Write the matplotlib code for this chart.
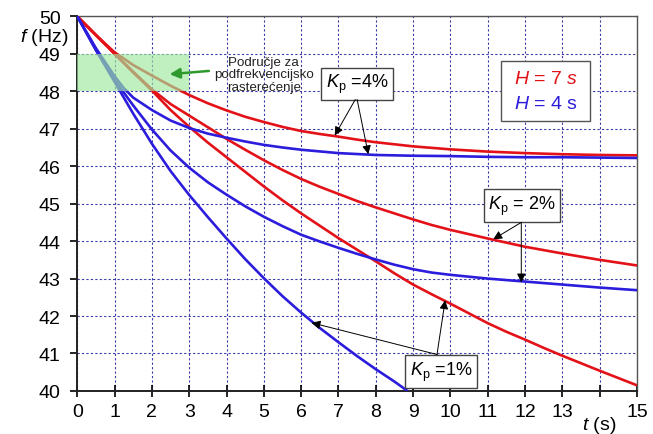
import numpy as np
import matplotlib
matplotlib.use('Agg')
import matplotlib.pyplot as plt
from matplotlib.patches import Rectangle

plt.rcParams['font.family'] = ['Liberation Sans', 'DejaVu Sans']
plt.rcParams['mathtext.fontset'] = 'custom'
plt.rcParams['mathtext.rm'] = 'Liberation Sans'
plt.rcParams['mathtext.it'] = 'Liberation Sans:italic'

RED = '#e31218'
BLUE = '#2c1ddc'

# frequency response f(t)
t_h7_kp4 = [0, 0.5, 1, 1.5, 2, 2.5, 3, 3.5, 4, 4.5, 5, 5.5, 6, 6.5, 7, 7.5, 8, 9, 10, 11, 12, 13, 14, 15]
f_h7_kp4 = [50, 49.5, 49.04, 48.7, 48.42, 48.15, 47.9, 47.68, 47.49, 47.32, 47.18, 47.05,
            46.94, 46.86, 46.79, 46.71, 46.64, 46.53, 46.45, 46.39, 46.35, 46.32, 46.3, 46.29]

t_h7_kp2 = [0, 0.5, 1, 1.5, 2, 2.5, 3, 3.5, 4, 4.5, 5, 5.5, 6, 6.5, 7, 7.5, 8, 8.5, 9, 9.5,
            10, 11, 12, 13, 14, 15]
f_h7_kp2 = [50, 49.5, 49.0, 48.52, 48.05, 47.66, 47.35, 47.04, 46.73, 46.44, 46.16, 45.9,
            45.66, 45.45, 45.26, 45.07, 44.9, 44.74, 44.58, 44.43, 44.3, 44.07, 43.85, 43.67,
            43.5, 43.35]

t_h7_kp1 = [0, 0.5, 1, 1.5, 2, 2.5, 3, 3.5, 4, 4.5, 5, 5.5, 6, 6.5, 7, 7.5, 8, 8.5, 9, 9.5,
            10, 10.5, 11, 11.5, 12, 12.5, 13, 14, 15]
f_h7_kp1 = [50, 49.5, 49.0, 48.5, 48.02, 47.5, 47.05, 46.63, 46.24, 45.85, 45.46, 45.09,
            44.74, 44.41, 44.08, 43.77, 43.46, 43.14, 42.84, 42.58, 42.33, 42.07, 41.81,
            41.58, 41.37, 41.15, 40.94, 40.54, 40.15]

t_h4_kp4 = [0, 0.5, 1, 1.25, 1.5, 2, 2.5, 3, 3.5, 4, 4.5, 5, 5.5, 6, 7, 8, 9, 10, 11, 12, 13, 14, 15]
f_h4_kp4 = [50, 49.15, 48.4, 48.08, 47.83, 47.5, 47.22, 47.02, 46.87, 46.76, 46.66, 46.57,
            46.5, 46.44, 46.35, 46.3, 46.28, 46.27, 46.25, 46.24, 46.24, 46.23, 46.22]

t_h4_kp2 = [0, 0.5, 1, 1.5, 2, 2.5, 3, 3.5, 4, 4.5, 5, 5.5, 6, 6.5, 7, 7.5, 8, 8.5, 9, 9.5,
            10, 11, 12, 13, 14, 15]
f_h4_kp2 = [50, 49.1, 48.3, 47.62, 46.98, 46.42, 45.96, 45.57, 45.24, 44.93, 44.65, 44.4,
            44.17, 43.99, 43.82, 43.66, 43.51, 43.37, 43.25, 43.16, 43.1, 43.0, 42.92, 42.84,
            42.76, 42.69]

t_h4_kp1 = [0, 0.5, 1, 1.5, 2, 2.5, 3, 3.5, 4, 4.5, 5, 5.5, 6, 6.5, 7, 7.5, 8, 8.5, 8.85]
f_h4_kp1 = [50, 49.1, 48.25, 47.4, 46.6, 45.87, 45.23, 44.64, 44.07, 43.52, 43.01, 42.53,
            42.09, 41.68, 41.3, 40.93, 40.58, 40.25, 40.0]

x_ticks = list(range(0, 16))
x_labels = [str(v) for v in x_ticks]
x_labels[14] = ''
y_ticks = list(range(40, 51))


fig = plt.figure(figsize=(6.53, 4.35), dpi=100)
ax = fig.add_axes([0.1184, 0.099, 0.857, 0.861])

for t, f, c in [(t_h7_kp4, f_h7_kp4, RED), (t_h7_kp2, f_h7_kp2, RED), (t_h7_kp1, f_h7_kp1, RED),
                (t_h4_kp4, f_h4_kp4, BLUE), (t_h4_kp2, f_h4_kp2, BLUE), (t_h4_kp1, f_h4_kp1, BLUE)]:
    ax.plot(t, f, color=c, lw=1.9, zorder=3, solid_capstyle='round', solid_joinstyle='round')

# under-frequency load shedding zone (drawn on top, semi transparent)
ax.add_patch(Rectangle((0, 48), 3, 1, facecolor='#9ee89e', alpha=0.65, edgecolor='none', zorder=4))
ax.annotate('', xy=(2.4, 48.45), xytext=(3.6, 48.55),
            arrowprops=dict(arrowstyle='-|>', color='#2e9a2e', lw=1.8, mutation_scale=15), zorder=5)
ax.text(5.0, 48.45, 'Područje za\npodfrekvencijsko\nrasterećenje', ha='center', va='center',
        fontsize=9.6, color='#222222', linespacing=1.05)

ax.set_xlim(0, 15)
ax.set_ylim(40, 50)
ax.set_xticks(x_ticks)
ax.set_xticklabels(x_labels, fontsize=14)
ax.set_yticks(y_ticks)
ax.set_yticklabels([str(v) for v in y_ticks], fontsize=14)
ax.tick_params(axis='y', direction='out', length=5, width=1.2, pad=7)
ax.tick_params(axis='x', direction='inout', length=8, width=1.2, pad=5)
ax.grid(True, color='#3a3aa8', linestyle=(0, (2.0, 2.0)), lw=0.8)
ax.set_axisbelow(True)

for s in ['left', 'bottom']:
    ax.spines[s].set_linewidth(1.4)
    ax.spines[s].set_color('#222222')
for s in ['top', 'right']:
    ax.spines[s].set_linewidth(1.0)
    ax.spines[s].set_color('#555555')

ax.text(-0.25, 49.45, '$f$ (Hz)', ha='right', va='center', fontsize=14, clip_on=False)
ax.text(14.0, 39.1, '$t$ (s)', ha='center', va='center', fontsize=14, clip_on=False)

# inertia legend
ax.add_patch(Rectangle((11.35, 47.2), 2.4, 1.6, facecolor='white', edgecolor='#555555', lw=1.0, zorder=5))
ax.text(12.55, 48.35, '$H$ = 7 $s$', color=RED, ha='center', va='center', fontsize=14, zorder=6)
ax.text(12.55, 47.67, '$H$ = 4 s', color=BLUE, ha='center', va='center', fontsize=14, zorder=6)

box = dict(boxstyle='square,pad=0.25', fc='white', ec='#444444', lw=1.0)
arr = dict(arrowstyle='-|>', color='black', lw=0.7, mutation_scale=13, shrinkA=0, shrinkB=0)

ax.text(7.5, 48.2, '$K_\\mathrm{p}$ =4%', ha='center', va='center', fontsize=13, bbox=box, zorder=6)
ax.annotate('', xy=(6.9, 46.82), xytext=(7.45, 47.78), arrowprops=arr, zorder=6)
ax.annotate('', xy=(7.8, 46.32), xytext=(7.5, 47.78), arrowprops=arr, zorder=6)

ax.text(11.92, 44.95, '$K_\\mathrm{p}$ = 2%', ha='center', va='center', fontsize=13, bbox=box, zorder=6)
ax.annotate('', xy=(11.15, 44.05), xytext=(11.9, 44.5), arrowprops=arr, zorder=6)
ax.annotate('', xy=(11.9, 42.9), xytext=(11.9, 44.5), arrowprops=arr, zorder=6)

ax.text(9.75, 40.52, '$K_\\mathrm{p}$ =1%', ha='center', va='center', fontsize=13, bbox=box, zorder=6)
ax.annotate('', xy=(6.28, 41.82), xytext=(9.65, 40.97), arrowprops=arr, zorder=6)
ax.annotate('', xy=(9.86, 42.42), xytext=(9.64, 40.97), arrowprops=arr, zorder=6)

fig.savefig('out.png', dpi=100)
